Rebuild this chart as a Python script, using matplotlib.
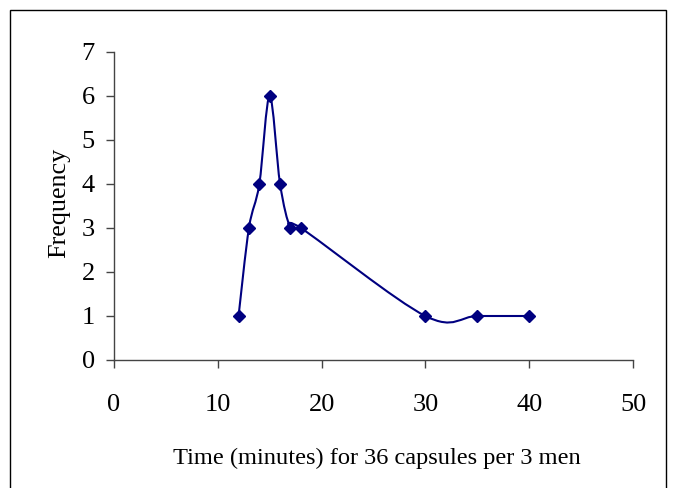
import numpy as np
import matplotlib.pyplot as plt
from matplotlib.path import Path
from matplotlib.patches import PathPatch, Rectangle

# data
time_min = [12, 13, 14, 15, 16, 17, 18, 30, 35, 40]
frequency = [1, 3, 4, 6, 4, 3, 3, 1, 1, 1]
x_ticks = [0, 10, 20, 30, 40, 50]
y_ticks = [0, 1, 2, 3, 4, 5, 6, 7]

plt.rcParams['font.family'] = ['Liberation Serif', 'DejaVu Serif']
navy = '#000080'

fig = plt.figure(figsize=(6.76, 4.88), dpi=100)
ax = fig.add_axes([114 / 676, 1 - 360 / 488, 519 / 676, 308 / 488])

# Excel-style smoothed line (Catmull-Rom as cubic Bezier segments)
pts = np.column_stack([time_min, frequency]).astype(float)
n = len(pts)
verts = [pts[0]]
codes = [Path.MOVETO]
for i in range(n - 1):
    p_prev = pts[max(i - 1, 0)]
    p0 = pts[i]
    p1 = pts[i + 1]
    p_next = pts[min(i + 2, n - 1)]
    c1 = p0 + (p1 - p_prev) / 6
    c2 = p1 - (p_next - p0) / 6
    verts += [c1, c2, p1]
    codes += [Path.CURVE4] * 3
ax.add_patch(PathPatch(Path(verts, codes), fill=False, edgecolor=navy, lw=1.5))

ax.plot(time_min, frequency, linestyle='none', marker='D', markersize=6,
        color=navy)

ax.set_xlim(0, 50)
ax.set_ylim(0, 7)
ax.set_xticks(x_ticks)
ax.set_yticks(y_ticks)

for side in ['top', 'right']:
    ax.spines[side].set_visible(False)
for side in ['left', 'bottom']:
    ax.spines[side].set_color('#444444')
    ax.spines[side].set_linewidth(1.0)
ax.tick_params(axis='both', direction='out', length=5.8, width=1.0,
               color='#444444', labelsize=19)
ax.tick_params(axis='x', pad=19)
ax.tick_params(axis='y', pad=8)

ax.set_xlabel('Time (minutes) for 36 capsules per 3 men', fontsize=17.6)
ax.xaxis.set_label_coords(0.507, -0.284)
ax.set_ylabel('Frequency', fontsize=18.8)
ax.yaxis.set_label_coords(-0.085, 0.51)

# outer chart frame
fig.patches.append(Rectangle((10 / 676, -0.05), 656 / 676, 1.05 - 10 / 488,
                             transform=fig.transFigure, fill=False,
                             edgecolor='black', lw=1.0))

fig.savefig('out.png', dpi=100)
